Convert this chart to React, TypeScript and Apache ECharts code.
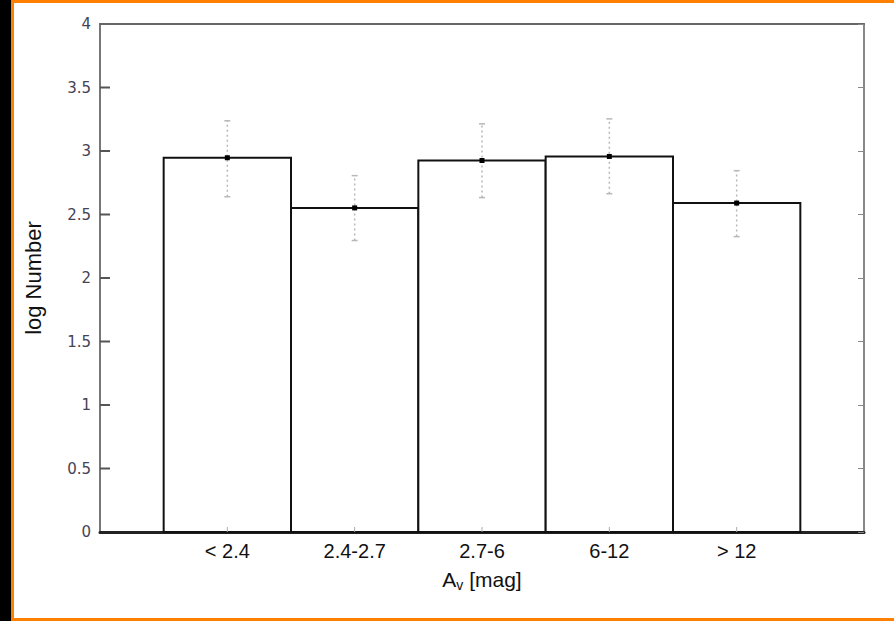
import React, { useEffect, useRef } from "react";
import * as echarts from "echarts";

const categories = ["< 2.4", "2.4-2.7", "2.7-6", "6-12", "> 12"];
const logNumber = [2.947, 2.552, 2.925, 2.957, 2.59];
const errLow = [2.64, 2.295, 2.633, 2.664, 2.326];
const errHigh = [3.238, 2.806, 3.214, 3.253, 2.845];
const yTicks = [0, 0.5, 1, 1.5, 2, 2.5, 3, 3.5, 4];

const W = 894;
const H = 621;
const GRID = { left: 100, right: 30, top: 24, bottom: 89 };

export default function App() {
  const ref = useRef<HTMLDivElement>(null);
  useEffect(() => {
    document.body.style.margin = "0";
    const chart = echarts.init(ref.current!, null, { renderer: "svg" });
    const barData = logNumber.map((v, i) => [i + 1, v]);
    const errData = logNumber.map((v, i) => [i + 1, errLow[i], errHigh[i], v]);
    const yTickData = yTicks.filter((v) => v > 0 && v < 4).map((v) => [0, v]);
    const xTickData = categories.map((_, i) => [i + 1, 0]);
    chart.setOption({
      animation: false,
      backgroundColor: "#ffffff",
      textStyle: { fontFamily: "Liberation Sans" },
      grid: GRID,
      graphic: [
        { type: "rect", shape: { x: 0, y: 0, width: 11, height: H }, style: { fill: "#000" }, silent: true },
        { type: "rect", shape: { x: 11, y: 0, width: 3, height: H }, style: { fill: "#ff7f00" }, silent: true },
        { type: "rect", shape: { x: 11, y: 0, width: W - 11, height: 3 }, style: { fill: "#ff7f00" }, silent: true },
        { type: "rect", shape: { x: 11, y: H - 3, width: W - 11, height: 3 }, style: { fill: "#ff7f00" }, silent: true },
      ],
      xAxis: [
        {
          type: "value",
          min: 0,
          max: categories.length + 1,
          interval: 1,
          splitLine: { show: false },
          axisLine: { show: true, onZero: false, lineStyle: { color: "#222", width: 3 } },
          axisTick: { show: false },
          axisLabel: {
            fontSize: 20,
            color: "#111",
            margin: 9,
            formatter: (v: number) => categories[v - 1] ?? "",
          },
          name: "{a|A}{s|v}{a| [mag]}",
          nameLocation: "middle",
          nameGap: 34,
          nameTextStyle: {
            rich: {
              a: { fontSize: 21, color: "#111", fontFamily: "Liberation Sans" },
              s: { fontSize: 14, color: "#111", fontFamily: "Liberation Sans", padding: [12, 0, 0, 0] },
            },
          },
        },
        {
          type: "value",
          position: "top",
          min: 0,
          max: categories.length + 1,
          interval: 1,
          splitLine: { show: false },
          axisLine: { show: true, onZero: false, lineStyle: { color: "#666", width: 2 } },
          axisTick: { show: false },
          axisLabel: { show: false },
        },
      ],
      yAxis: [
        {
          type: "value",
          position: "left",
          min: 0,
          max: 4,
          interval: 0.5,
          splitLine: { show: false },
          axisLine: { show: true, onZero: false, lineStyle: { color: "#777", width: 2 } },
          axisTick: { show: false },
          axisLabel: {
            fontSize: 15,
            color: "#445",
            margin: 9,
            fontFamily: "DejaVu Sans",
            formatter: (v: number) => (yTicks.includes(v) ? String(v) : ""),
          },
          name: "log Number",
          nameLocation: "middle",
          nameGap: 56,
          nameRotate: 90,
          nameTextStyle: { fontSize: 22, color: "#111", fontFamily: "Liberation Sans" },
        },
        {
          type: "value",
          position: "right",
          min: 0,
          max: 4,
          interval: 0.5,
          splitLine: { show: false },
          axisLine: { show: true, onZero: false, lineStyle: { color: "#888", width: 2 } },
          axisTick: { show: true, inside: true, length: 6, lineStyle: { color: "#888", width: 1 } },
          axisLabel: { show: false },
        },
      ],
      series: [
        {
          type: "custom",
          xAxisIndex: 0,
          yAxisIndex: 0,
          data: barData,
          renderItem: (params: any, api: any) => {
            const x = api.value(0);
            const v = api.value(1);
            const w = api.size([1, 0])[0];
            const top = api.coord([x, v]);
            const base = api.coord([x, 0]);
            return {
              type: "rect",
              shape: { x: top[0] - w / 2, y: top[1], width: w, height: base[1] - top[1] },
              style: { fill: "#fff", stroke: "#111", lineWidth: 2 },
            };
          },
          z: 2,
        },
        {
          type: "custom",
          xAxisIndex: 0,
          yAxisIndex: 0,
          data: errData,
          renderItem: (params: any, api: any) => {
            const x = api.value(0);
            const lo = api.coord([x, api.value(1)]);
            const hi = api.coord([x, api.value(2)]);
            const mid = api.coord([x, api.value(3)]);
            const c = 3;
            const st = { stroke: "#b8b8b8", lineWidth: 1.5 };
            return {
              type: "group",
              children: [
                { type: "line", shape: { x1: lo[0], y1: lo[1], x2: hi[0], y2: hi[1] }, style: { ...st, lineDash: [2, 3] } },
                { type: "line", shape: { x1: lo[0] - c, y1: lo[1], x2: lo[0] + c, y2: lo[1] }, style: st },
                { type: "line", shape: { x1: hi[0] - c, y1: hi[1], x2: hi[0] + c, y2: hi[1] }, style: st },
                { type: "rect", shape: { x: mid[0] - 2.5, y: mid[1] - 2.5, width: 5, height: 5 }, style: { fill: "#000" } },
              ],
            };
          },
          z: 3,
        },
        {
          type: "custom",
          name: "yticks",
          xAxisIndex: 0,
          yAxisIndex: 0,
          silent: true,
          clip: false,
          data: yTickData,
          renderItem: (params: any, api: any) => {
            const p = api.coord([api.value(0), api.value(1)]);
            return {
              type: "line",
              shape: { x1: p[0], y1: p[1], x2: p[0] + 10, y2: p[1] },
              style: { stroke: "#555", lineWidth: 2 },
            };
          },
          z: 4,
        },
        {
          type: "custom",
          name: "xticks",
          xAxisIndex: 0,
          yAxisIndex: 0,
          silent: true,
          clip: false,
          data: xTickData,
          renderItem: (params: any, api: any) => {
            const p = api.coord([api.value(0), api.value(1)]);
            return {
              type: "line",
              shape: { x1: p[0], y1: p[1], x2: p[0], y2: p[1] - 5 },
              style: { stroke: "#aaa", lineWidth: 1 },
            };
          },
          z: 4,
        },
      ],
    });
    return () => chart.dispose();
  }, []);
  return <div ref={ref} style={{ width: W, height: H }} />;
}
